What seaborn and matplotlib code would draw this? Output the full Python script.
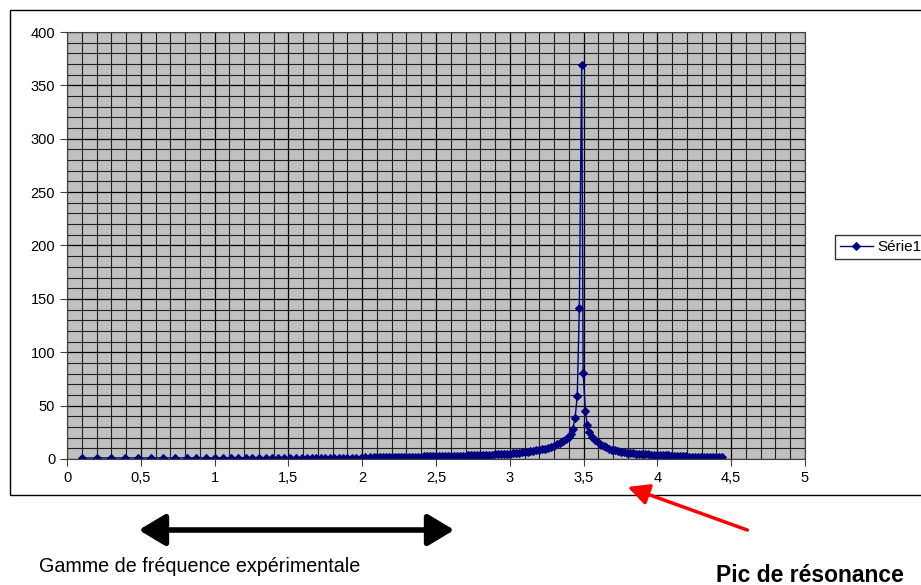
import numpy as np
import pandas as pd
import matplotlib
matplotlib.use('Agg')
import matplotlib.pyplot as plt
import seaborn as sns
from matplotlib.patches import Rectangle, FancyArrowPatch

plt.rcParams['font.family'] = ['Liberation Sans', 'DejaVu Sans']

# frequence (Hz) / amplitude
freq_low = [0.10, 0.20, 0.30, 0.39, 0.48, 0.57, 0.65, 0.73, 0.81, 0.875, 0.94, 1.00,
            1.055, 1.11, 1.16, 1.21, 1.255, 1.30, 1.345, 1.39, 1.43, 1.47, 1.51, 1.55,
            1.59, 1.625, 1.66, 1.69, 1.72, 1.75, 1.78, 1.81, 1.84, 1.87, 1.90, 1.93,
            1.96, 1.99, 2.02, 2.05]
amp_low = [1.0, 1.0, 1.0, 1.0, 1.0, 1.0, 1.05, 1.05, 1.05, 1.05, 1.1, 1.1,
           1.1, 1.1, 1.1, 1.15, 1.15, 1.15, 1.15, 1.2, 1.2, 1.2, 1.2, 1.25,
           1.25, 1.25, 1.25, 1.3, 1.3, 1.3, 1.3, 1.35, 1.35, 1.35, 1.35, 1.4,
           1.4, 1.4, 1.45, 1.45]

freq_mid = [2.08, 2.10, 2.12, 2.14, 2.16, 2.18, 2.20, 2.22, 2.24, 2.26, 2.28, 2.30,
            2.32, 2.34, 2.36, 2.38, 2.40, 2.42, 2.44, 2.46, 2.48, 2.50, 2.52, 2.54,
            2.56, 2.58, 2.60, 2.62, 2.64, 2.66, 2.68, 2.70, 2.72, 2.74, 2.76, 2.78,
            2.80, 2.82, 2.84, 2.86, 2.88, 2.90, 2.92, 2.94, 2.96, 2.98, 3.00, 3.02,
            3.04, 3.06, 3.08, 3.10, 3.12, 3.14, 3.16, 3.18, 3.20, 3.22, 3.24, 3.26,
            3.28, 3.30, 3.32, 3.34, 3.36, 3.38, 3.40]
amp_mid = [1.60, 1.65, 1.70, 1.72, 1.75, 1.80, 1.85, 1.90, 1.93, 1.97, 2.00, 2.05,
           2.10, 2.15, 2.20, 2.25, 2.30, 2.35, 2.40, 2.45, 2.50, 2.55, 2.60, 2.65,
           2.70, 2.75, 2.80, 2.85, 2.90, 2.95, 3.00, 3.05, 3.40, 3.45, 3.55, 3.65,
           3.75, 3.85, 3.95, 4.05, 4.15, 4.25, 4.40, 4.55, 4.70, 4.85, 5.00, 5.25,
           5.50, 5.80, 6.10, 6.40, 6.80, 7.20, 7.60, 8.00, 8.50, 9.10, 9.80, 10.6,
           11.5, 12.5, 13.6, 15.0, 16.8, 19.0, 21.0]

freq_peak = [3.415, 3.426, 3.442, 3.457, 3.471, 3.487, 3.497, 3.512, 3.525, 3.539]
amp_peak = [23.0, 28.0, 38.0, 59.0, 141.0, 369.0, 81.0, 45.0, 32.0, 25.0]

freq_high = [3.555, 3.575, 3.595, 3.615, 3.635, 3.655, 3.675, 3.695, 3.715, 3.735,
             3.755, 3.775, 3.795, 3.815, 3.835, 3.855, 3.875, 3.895, 3.915, 3.935,
             3.955, 3.975, 3.995, 4.015, 4.035, 4.055, 4.075, 4.095, 4.115, 4.135,
             4.155, 4.175, 4.195, 4.215, 4.235, 4.255, 4.275, 4.295, 4.315, 4.335,
             4.355, 4.375, 4.395, 4.415, 4.435]
amp_high = [21.0, 18.0, 15.5, 13.5, 12.0, 10.8, 9.7, 8.8, 8.0, 7.4,
            6.9, 6.4, 6.0, 5.7, 5.4, 5.1, 4.9, 4.7, 4.5, 4.3,
            4.1, 3.9, 3.8, 3.6, 3.5, 3.4, 3.3, 2.6, 2.55, 2.5,
            2.45, 2.4, 2.35, 2.3, 2.25, 2.2, 2.15, 2.1, 2.05, 2.0,
            2.0, 1.95, 1.9, 1.9, 1.85]

x_ticks = [0, 0.5, 1, 1.5, 2, 2.5, 3, 3.5, 4, 4.5, 5]
x_labels = ['0', '0,5', '1', '1,5', '2', '2,5', '3', '3,5', '4', '4,5', '5']
y_ticks = [0, 50, 100, 150, 200, 250, 300, 350, 400]

df = pd.DataFrame({
    'freq': freq_low + freq_mid + freq_peak + freq_high,
    'amp': amp_low + amp_mid + amp_peak + amp_high,
})

fig = plt.figure(figsize=(9.21, 5.85), dpi=100)

# outer chart frame
fig.patches.append(Rectangle((10 / 921, 1 - 495 / 585), 1.0, 485 / 585,
                             transform=fig.transFigure, fill=False,
                             edgecolor='black', linewidth=1.0, zorder=0))

ax = fig.add_axes([67 / 921, 1 - 459 / 585, 738 / 921, 427 / 585])
ax.set_facecolor('#C0C0C0')

sns.lineplot(data=df, x='freq', y='amp', ax=ax, sort=False, estimator=None,
             color='#000080', linewidth=1.0, marker='D', markersize=3.8,
             markeredgecolor='#000080', label='Série1', legend=False)

ax.set_xlim(0, 5)
ax.set_ylim(0, 400)
ax.set_xticks(x_ticks)
ax.set_xticklabels(x_labels)
ax.set_yticks(y_ticks)
ax.set_xticks(np.arange(0, 5.01, 0.1), minor=True)
ax.set_yticks(np.arange(0, 401, 10), minor=True)
ax.grid(which='major', color='black', linewidth=0.9)
ax.grid(which='minor', color='#202020', linewidth=0.8)
ax.set_axisbelow(True)
ax.tick_params(which='major', direction='out', length=5, labelsize=10.5, color='#404040')
ax.tick_params(which='minor', length=0)
ax.set_xlabel('')
ax.set_ylabel('')
for side in ['left', 'bottom', 'top', 'right']:
    ax.spines[side].set_color('#404040')

handles, labels = ax.get_legend_handles_labels()
fig.legend(handles, labels, loc='center left', bbox_to_anchor=(835 / 921, 1 - 247 / 585),
           frameon=True, fancybox=False, edgecolor='black', fontsize=11,
           handlelength=2.2, borderpad=0.3, handletextpad=0.3, borderaxespad=0)

# annotations below the chart
fig.patches.append(FancyArrowPatch((136 / 921, 1 - 530 / 585), (457 / 921, 1 - 530 / 585),
                                   transform=fig.transFigure, arrowstyle='<|-|>,head_length=10,head_width=6',
                                   color='black', linewidth=4, mutation_scale=1.6))
fig.text(200 / 921, 1 - 567 / 585, 'Gamme de fréquence expérimentale',
         ha='center', va='center', fontsize=14.2)
fig.patches.append(FancyArrowPatch((750 / 921, 1 - 531 / 585), (625 / 921, 1 - 486 / 585),
                                   transform=fig.transFigure, arrowstyle='-|>,head_length=8,head_width=4',
                                   color='red', linewidth=2.5, mutation_scale=1.6))
fig.text(810 / 921, 1 - 575 / 585, 'Pic de résonance', ha='center', va='center',
         fontsize=16.5, fontweight='bold')

fig.savefig('out.png', dpi=100)
